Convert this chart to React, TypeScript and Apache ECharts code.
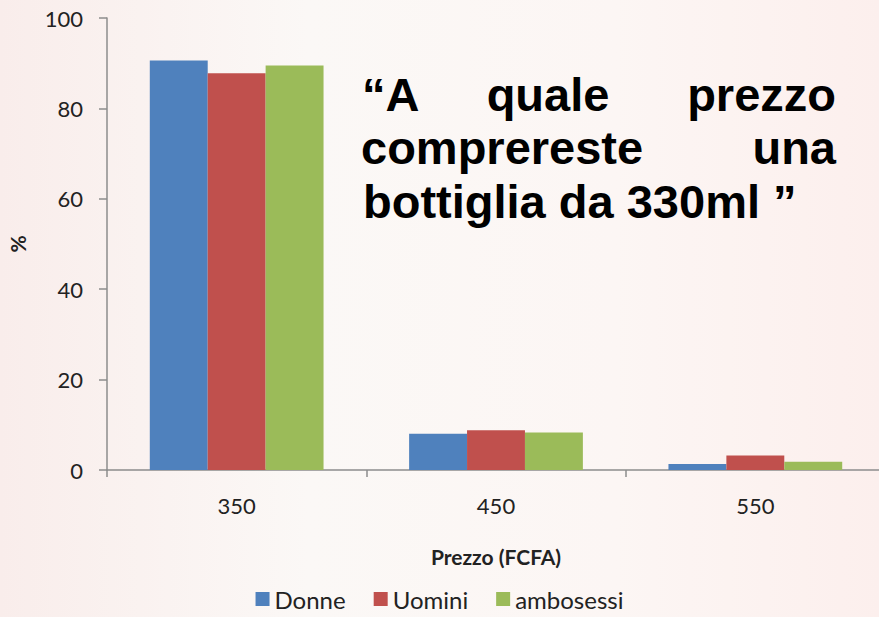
import React, { useEffect, useRef } from "react";
import * as echarts from "echarts";

const categories = ["350", "450", "550"];
const donne = [90.6, 8.0, 1.3];
const uomini = [87.8, 8.8, 3.2];
const ambosessi = [89.5, 8.3, 1.8];
const yTicks = { min: 0, max: 100, interval: 20 };

const FONT = "Lato, 'Open Sans', sans-serif";
const TITLE_FONT = "'Liberation Sans', Arial, sans-serif";

export default function App() {
  const ref = useRef<HTMLDivElement>(null);
  useEffect(() => {
    if (!ref.current) return;
    const chart = echarts.init(ref.current, null, { renderer: "svg" });
    const titleStyle = (text: string, x: number, y: number, align: string) => ({
      type: "text",
      x,
      y,
      style: {
        text,
        font: `bold 47px ${TITLE_FONT}`,
        fill: "#000",
        textAlign: align,
        textVerticalAlign: "middle",
      },
      z: 10,
    });
    chart.setOption({
      animation: false,
      backgroundColor: {
        type: "linear",
        x: 0,
        y: 0,
        x2: 1,
        y2: 0,
        colorStops: [
          { offset: 0, color: "#f9edeb" },
          { offset: 0.35, color: "#fbf8f6" },
          { offset: 0.7, color: "#fcf6f4" },
          { offset: 1, color: "#fcefed" },
        ],
      },
      color: ["#4f81bd", "#c0504d", "#9bbb59"],
      grid: { left: 107, top: 18, bottom: 147, width: 778, outerBoundsMode: "none", containLabel: false },
      legend: {
        bottom: 1,
        left: "center",
        icon: "rect",
        itemWidth: 14,
        itemHeight: 14,
        itemGap: 28,
        textStyle: { fontFamily: FONT, fontSize: 24, color: "#222" },
        data: ["Donne", "Uomini", "ambosessi"],
      },
      xAxis: {
        type: "category",
        data: categories,
        name: "Prezzo (FCFA)",
        nameLocation: "middle",
        nameGap: 76,
        nameTextStyle: { fontFamily: FONT, fontSize: 21, fontWeight: "bold", color: "#222" },
        axisLine: { lineStyle: { color: "#8c8c8c", width: 1.5 } },
        axisTick: { show: true, length: 7, lineStyle: { color: "#8c8c8c", width: 1.5 } },
        axisLabel: { margin: 24, fontFamily: FONT, fontSize: 22, color: "#222" },
      },
      yAxis: {
        type: "value",
        min: yTicks.min,
        max: yTicks.max,
        interval: yTicks.interval,
        name: "%",
        nameLocation: "middle",
        nameGap: 79,
        nameTextStyle: { fontFamily: FONT, fontSize: 21, fontWeight: "bold", color: "#222" },
        axisLine: { show: true, lineStyle: { color: "#8c8c8c", width: 1.5 } },
        axisTick: { show: true, length: 8, lineStyle: { color: "#8c8c8c", width: 1.5 } },
        axisLabel: { margin: 24, fontFamily: FONT, fontSize: 22, color: "#222" },
        splitLine: { show: false },
      },
      series: [
        { name: "Donne", type: "bar", data: donne, barGap: "0%", barCategoryGap: "33%" },
        { name: "Uomini", type: "bar", data: uomini, barGap: "0%", barCategoryGap: "33%" },
        { name: "ambosessi", type: "bar", data: ambosessi, barGap: "0%", barCategoryGap: "33%" },
      ],
      graphic: [
        titleStyle("“A", 362, 94, "left"),
        titleStyle("quale", 548, 94, "center"),
        titleStyle("prezzo", 836, 94, "right"),
        titleStyle("comprereste", 361, 147, "left"),
        titleStyle("una", 836, 147, "right"),
        titleStyle("bottiglia da 330ml ”", 363, 201, "left"),
      ],
    });
    return () => chart.dispose();
  }, []);
  return <div ref={ref} style={{ width: 879, height: 617, position: "absolute", left: 0, top: 0 }} />;
}
